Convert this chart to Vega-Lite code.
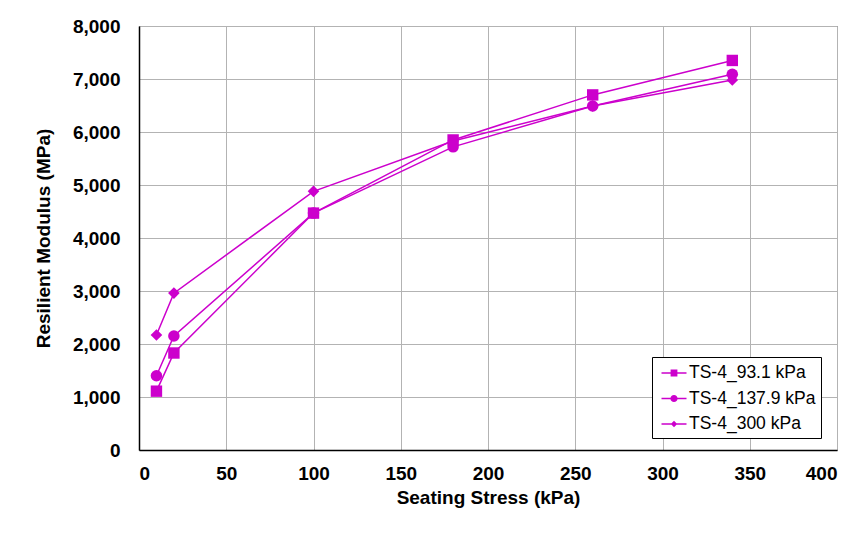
{
  "$schema": "https://vega.github.io/schema/vega-lite/v6.json",
  "autosize": {"type": "none"},
  "width": 698,
  "height": 424,
  "padding": {"left": 139, "top": 26, "right": 28, "bottom": 83},
  "background": "white",
  "data": {
    "values": [
      {"series": "TS-4_93.1 kPa", "stress": 10, "modulus": 1110},
      {"series": "TS-4_93.1 kPa", "stress": 20, "modulus": 1830},
      {"series": "TS-4_93.1 kPa", "stress": 100, "modulus": 4470},
      {"series": "TS-4_93.1 kPa", "stress": 180, "modulus": 5850},
      {"series": "TS-4_93.1 kPa", "stress": 260, "modulus": 6700},
      {"series": "TS-4_93.1 kPa", "stress": 340, "modulus": 7350},
      {"series": "TS-4_137.9 kPa", "stress": 10, "modulus": 1400},
      {"series": "TS-4_137.9 kPa", "stress": 20, "modulus": 2150},
      {"series": "TS-4_137.9 kPa", "stress": 100, "modulus": 4470},
      {"series": "TS-4_137.9 kPa", "stress": 180, "modulus": 5720},
      {"series": "TS-4_137.9 kPa", "stress": 260, "modulus": 6490},
      {"series": "TS-4_137.9 kPa", "stress": 340, "modulus": 7090},
      {"series": "TS-4_300 kPa", "stress": 10, "modulus": 2170},
      {"series": "TS-4_300 kPa", "stress": 20, "modulus": 2960},
      {"series": "TS-4_300 kPa", "stress": 100, "modulus": 4880},
      {"series": "TS-4_300 kPa", "stress": 180, "modulus": 5830},
      {"series": "TS-4_300 kPa", "stress": 260, "modulus": 6490},
      {"series": "TS-4_300 kPa", "stress": 340, "modulus": 6980}
    ]
  },
  "encoding": {
    "x": {
      "field": "stress", "type": "quantitative",
      "scale": {"domain": [0, 400], "nice": false},
      "axis": {"values": [0, 50, 100, 150, 200, 250, 300, 350, 400], "title": "Seating Stress (kPa)", "labelPadding": 14, "titlePadding": 5}
    },
    "y": {
      "field": "modulus", "type": "quantitative",
      "scale": {"domain": [0, 8000], "nice": false},
      "axis": {"values": [0, 1000, 2000, 3000, 4000, 5000, 6000, 7000, 8000], "format": ",.0f", "title": "Resilient Modulus (MPa)", "labelPadding": 19, "titlePadding": 19}
    }
  },
  "layer": [
    {
      "mark": {"type": "line", "color": "#CC00CC", "strokeWidth": 1.5},
      "encoding": {
        "detail": {"field": "series"},
        "order": {"field": "stress"}
      }
    },
    {
      "mark": {"type": "point", "filled": true, "color": "#CC00CC", "opacity": 1},
      "encoding": {
        "shape": {
          "field": "series", "type": "nominal",
          "scale": {"domain": ["TS-4_93.1 kPa", "TS-4_137.9 kPa", "TS-4_300 kPa"], "range": ["square", "circle", "diamond"]},
          "legend": null
        },
        "size": {
          "field": "series", "type": "nominal",
          "scale": {"domain": ["TS-4_93.1 kPa", "TS-4_137.9 kPa", "TS-4_300 kPa"], "range": [130, 135, 150]},
          "legend": null
        }
      }
    },
    {
      "transform": [{"filter": "false"}],
      "mark": {"type": "point", "filled": true, "color": "#CC00CC", "opacity": 1},
      "encoding": {
        "shape": {
          "field": "series", "type": "nominal",
          "scale": {
            "domain": ["TS-4_93.1 kPa", "TS-4_137.9 kPa", "TS-4_300 kPa"],
            "range": [
              "M-1.25,-0.075L1.25,-0.075L1.25,0.075L-1.25,0.075ZM-0.34,-0.34L0.34,-0.34L0.34,0.34L-0.34,0.34Z",
              "M-1.25,-0.075L1.25,-0.075L1.25,0.075L-1.25,0.075ZM0.36,0A0.36,0.36,0,1,1,-0.36,0A0.36,0.36,0,1,1,0.36,0Z",
              "M-1.25,-0.075L1.25,-0.075L1.25,0.075L-1.25,0.075ZM0,-0.32L0.32,0L0,0.32L-0.32,0Z"
            ]
          },
          "legend": {
            "title": null,
            "orient": "none",
            "legendX": 513,
            "legendY": 331,
            "padding": 5,
            "rowPadding": 5.5,
            "symbolSize": 400,
            "symbolOffset": 6,
            "labelOffset": 4,
            "strokeColor": "#000000",
            "fillColor": "#ffffff",
            "labelFont": "Liberation Sans",
            "labelFontSize": 17.5,
            "labelColor": "#000000",
            "labelLimit": 300,
            "encode": {
              "symbols": {
                "update": {
                  "fill": {"value": "#CC00CC"},
                  "opacity": {"value": 1},
                  "size": {"value": 400}
                }
              }
            }
          }
        }
      }
    }
  ],
  "resolve": {"scale": {"shape": "independent", "size": "independent"}},
  "config": {
    "view": {"stroke": "#595959", "strokeWidth": 1},
    "axis": {
      "labelFont": "Liberation Sans",
      "labelFontSize": 19,
      "labelFontWeight": "bold",
      "labelColor": "#000000",
      "titleFont": "Liberation Sans",
      "titleFontSize": 19,
      "titleFontWeight": "bold",
      "titleColor": "#000000",
      "ticks": false,
      "domainColor": "#000000",
      "domainWidth": 1.5,
      "gridColor": "#b3b3b3",
      "gridWidth": 1
    }
  }
}
